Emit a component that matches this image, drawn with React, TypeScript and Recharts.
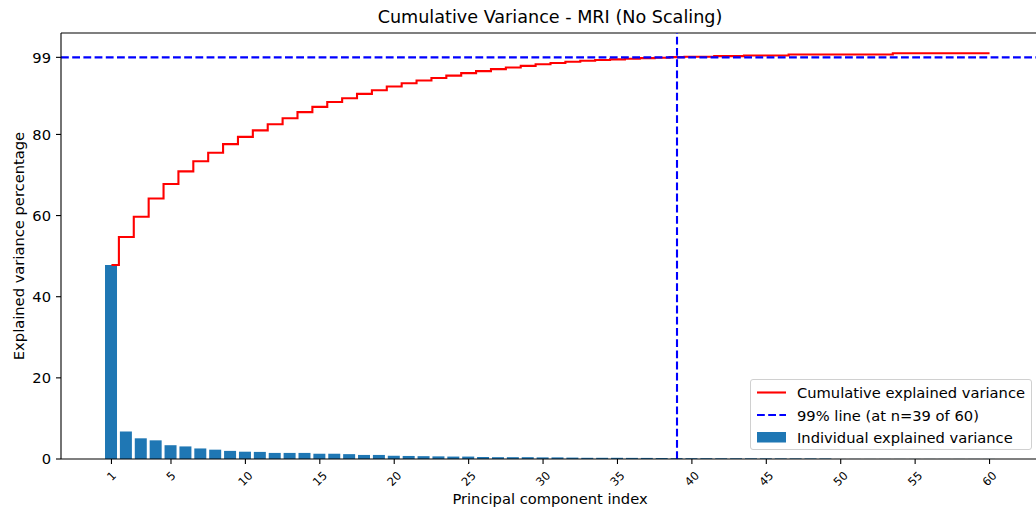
import React from 'react';
import { ComposedChart, Bar, Line, XAxis, YAxis, ReferenceLine, Legend } from 'recharts';

const pcIndex: number[] = Array.from({ length: 60 }, (_, i) => i + 1);

const individualVariance: number[] = [
  47.8, 6.8, 5.1, 4.6, 3.4, 3.1, 2.6, 2.3, 2.0, 1.8,
  1.75, 1.5, 1.5, 1.5, 1.3, 1.3, 1.2, 1.0, 1.0, 0.8,
  0.75, 0.7, 0.65, 0.6, 0.6, 0.5, 0.45, 0.45, 0.45, 0.4,
  0.4, 0.35, 0.3, 0.3, 0.3, 0.28, 0.27, 0.25, 0.22, 0.2,
  0.2, 0.18, 0.18, 0.17, 0.16, 0.15, 0.15, 0.14, 0.13, 0.02,
  0.02, 0.02, 0.02, 0.02, 0.02, 0.02, 0.02, 0.02, 0.02, 0.02,
];

const cumulativeVariance: number[] = [
  47.8, 54.7, 59.7, 64.2, 67.8, 70.9, 73.4, 75.5, 77.6, 79.4,
  81.0, 82.5, 84.0, 85.5, 86.8, 88.0, 88.9, 90.0, 90.9, 91.8,
  92.6, 93.3, 93.9, 94.5, 95.1, 95.6, 96.1, 96.5, 96.9, 97.3,
  97.6, 97.9, 98.15, 98.35, 98.5, 98.65, 98.8, 98.9, 99.05, 99.15,
  99.15, 99.3, 99.3, 99.45, 99.45, 99.45, 99.7, 99.7, 99.7, 99.7,
  99.7, 99.7, 99.7, 100.0, 100.0, 100.0, 100.0, 100.0, 100.0, 100.0,
];

const xTicks: number[] = [1, 5, 10, 15, 20, 25, 30, 35, 40, 45, 50, 55, 60];
const yTicks: number[] = [0, 20, 40, 60, 80, 99];
const thresholdPct = 99;
const thresholdN = 39;
const totalN = 60;

const titleText = 'Cumulative Variance - MRI (No Scaling)';
const xLabelText = 'Principal component index';
const yLabelText = 'Explained variance percentage';
const legendCum = 'Cumulative explained variance';
const legendLine = `${thresholdPct}% line (at n=${thresholdN} of ${totalN})`;
const legendBar = 'Individual explained variance';

const data = pcIndex.map((pc, i) => ({ pc, ind: individualVariance[i], cum: cumulativeVariance[i] }));

const FONT = 'DejaVu Sans, sans-serif';
const BAR_COLOR = '#1f77b4';
const FS = 14.7;
const LW = 2.1;
const DASH = '7.8 3.4';

const RotTick = (props: any) => {
  const { x, y, payload } = props;
  const fs = 11.5;
  const label = String(payload.value);
  const w = label.length * 0.636 * fs;
  const h = 1.1 * fs;
  const half = (w + h) / (2 * Math.SQRT2);
  const cy = y + 5 + half;
  return (
    <text
      x={x}
      y={cy}
      transform={`rotate(-45, ${x}, ${cy})`}
      textAnchor="middle"
      dominantBaseline="central"
      fontSize={fs}
      fontFamily={FONT}
      fill="#000"
    >
      {label}
    </text>
  );
};

const LegendBox = () => (
  <div
    style={{
      width: 282,
      height: 71,
      boxSizing: 'border-box',
      border: '1px solid #d0d0d0',
      borderRadius: 3,
      background: 'rgba(255,255,255,0.8)',
      position: 'relative',
    }}
  >
    <svg width={282} height={71} style={{ position: 'absolute', left: -1, top: -1 }}>
      <line x1={7} x2={36} y1={13.5} y2={13.5} stroke="#ff0000" strokeWidth={LW} />
      <line x1={7} x2={36} y1={36} y2={36} stroke="#0000ff" strokeWidth={LW} strokeDasharray={DASH} />
      <rect x={7} y={53} width={29} height={10.5} fill={BAR_COLOR} />
      <text x={47} y={13.5} dominantBaseline="central" fontSize={FS} fontFamily={FONT} fill="#000">{legendCum}</text>
      <text x={47} y={36} dominantBaseline="central" fontSize={FS} fontFamily={FONT} fill="#000">{legendLine}</text>
      <text x={47} y={58} dominantBaseline="central" fontSize={FS} fontFamily={FONT} fill="#000">{legendBar}</text>
    </svg>
  </div>
);

export default function App() {
  return (
    <div
      style={{
        position: 'fixed',
        left: 0,
        top: 0,
        width: 1036,
        height: 513,
        overflow: 'hidden',
        background: '#fff',
        fontFamily: FONT,
      }}
    >
      <ComposedChart
        width={1045}
        height={513}
        data={data}
        margin={{ top: 33, right: 5, bottom: 0, left: 0 }}
      >
        <XAxis
          dataKey="pc"
          type="number"
          domain={[-2.39, 63.39]}
          allowDataOverflow
          ticks={xTicks}
          interval={0}
          tick={<RotTick />}
          tickSize={5}
          tickMargin={0}
          tickLine={{ stroke: '#000', strokeWidth: 1.1 }}
          axisLine={{ stroke: '#000', strokeWidth: 1.1 }}
          height={54}
        />
        <YAxis
          type="number"
          domain={[0, 105]}
          allowDataOverflow
          ticks={yTicks}
          interval={0}
          width={61}
          tickSize={5}
          tickMargin={5}
          tick={{ fontSize: FS, fontFamily: FONT, fill: '#000' }}
          tickLine={{ stroke: '#000', strokeWidth: 1.1 }}
          axisLine={{ stroke: '#000', strokeWidth: 1.1 }}
        />
        <Bar dataKey="ind" fill={BAR_COLOR} barSize={12} isAnimationActive={false} />
        <Line
          dataKey="cum"
          type="step"
          stroke="#ff0000"
          strokeWidth={LW}
          dot={false}
          activeDot={false}
          isAnimationActive={false}
        />
        <ReferenceLine y={105} stroke="#000" strokeWidth={1.1} ifOverflow="visible" />
        <ReferenceLine y={thresholdPct} stroke="#0000ff" strokeWidth={LW} strokeDasharray={DASH} />
        <ReferenceLine x={thresholdN} stroke="#0000ff" strokeWidth={LW} strokeDasharray={DASH} />
        <Legend
          layout="horizontal"
          verticalAlign="middle"
          align="center"
          content={() => <LegendBox />}
          wrapperStyle={{ position: 'absolute', left: 750, top: 379, width: 282, height: 71 }}
        />
      </ComposedChart>
      <div
        style={{
          position: 'absolute',
          left: 550,
          top: 17,
          transform: 'translate(-50%, -50%)',
          whiteSpace: 'nowrap',
          fontSize: 17.6,
          color: '#000',
        }}
      >
        {titleText}
      </div>
      <div
        style={{
          position: 'absolute',
          left: 550,
          top: 498,
          transform: 'translate(-50%, -50%)',
          whiteSpace: 'nowrap',
          fontSize: FS,
          color: '#000',
        }}
      >
        {xLabelText}
      </div>
      <div
        style={{
          position: 'absolute',
          left: 17.5,
          top: 246,
          transform: 'translate(-50%, -50%) rotate(-90deg)',
          whiteSpace: 'nowrap',
          fontSize: FS,
          color: '#000',
        }}
      >
        {yLabelText}
      </div>
    </div>
  );
}
